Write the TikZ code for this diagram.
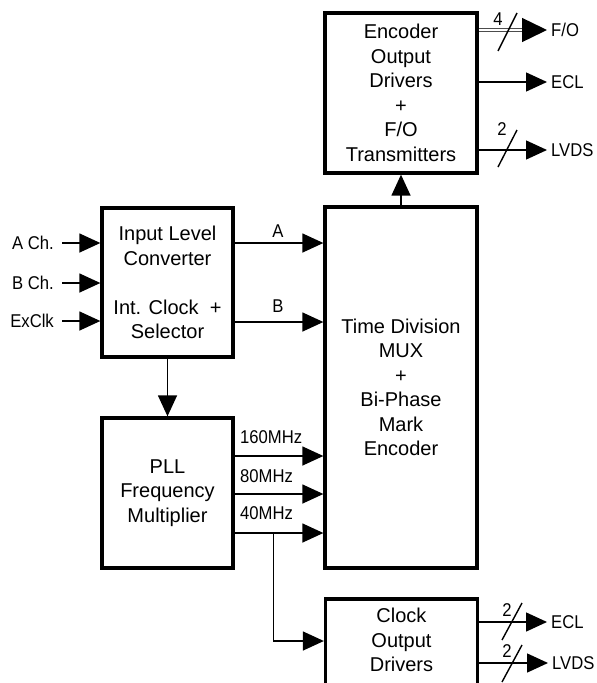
\documentclass[tikz,border=0pt]{standalone}
\usepackage{fontspec}
\setmainfont{Liberation Sans}
\newfontfamily\lblfont{Liberation Sans}[FakeStretch=0.9]
\usepackage{tikz}
\usetikzlibrary{
  arrows.meta,
  positioning,
  calc
}
\tikzset{
  blk/.style={
    draw, line width=3.3pt, align=center, inner sep=0pt,
    font=\fontsize{20}{24.5}\selectfont
  },
  sig/.style={-{Triangle[length=21pt, width=19pt]}, line width=1.4pt},
  bigsig/.style={-{Triangle[length=25pt, width=24pt]}, line width=1.4pt},
  fiber/.style={double=white, double distance=1.4pt, line width=1pt, draw=black!70},
  busmark/.style={line width=1.4pt},
  lbl/.style={font=\lblfont\fontsize{18.5}{22}\selectfont, inner sep=1pt},
  inlbl/.style={lbl, anchor=east, inner xsep=8pt},
  outlbl/.style={lbl, anchor=west, inner xsep=4pt}
}
\begin{document}
\begin{tikzpicture}[x=1pt, y=-1pt]
  \useasboundingbox (0,0) rectangle (597,683);
  \clip (0,0) rectangle (597,683);

  \node[blk, minimum width=152, minimum height=160] (enc) at (401,93)
    {Encoder\\Output\\Drivers\\+\\F/O\\Transmitters};
  \node[blk, minimum width=131, minimum height=149] (conv) at (167.5,282.5)
    {Input Level\\Converter\\[24.5pt]Int. Clock~~+\\Selector};
  \node[blk, minimum width=152, minimum height=361] (mux) at (401,387.5)
    {Time Division\\MUX\\+\\Bi-Phase\\Mark\\Encoder};
  \node[blk, minimum width=131, minimum height=150] (pll) at (167.5,493)
    {PLL\\Frequency\\Multiplier};
  \node[blk, minimum width=152, minimum height=100, text depth=18pt] (clk) at (401.5,649)
    {Clock\\Output\\Drivers};

  \foreach \y/\txt/\nm in {243/A Ch./ach, 283/B Ch./bch, 321/ExClk/xclk}{
    \node[inlbl] (\nm) at (62,\y) {\txt};
    \draw[sig] (\nm.east) -- (\nm.east -| conv.west);
  }

  \coordinate (atap) at ($(conv.east)+(0,-39.5)$);
  \coordinate (btap) at ($(conv.east)+(0,39.5)$);
  \draw[sig] (atap) -- (atap -| mux.west);
  \draw[sig] (btap) -- (btap -| mux.west);
  \node[lbl] (alab) at (278,231) {A};
  \node[lbl] (blab) at (278,306) {B};

  \draw[sig] (conv) -- (pll);
  \draw[sig] (mux) -- (enc);

  \foreach \dy/\ly/\txt/\nm in {-37/437/160MHz/f160, 1/476/80MHz/f80, 40/513/40MHz/f40}{
    \coordinate (\nm) at ($(pll.east)+(0,\dy)$);
    \draw[sig] (\nm) -- (\nm -| mux.west);
    \node[lbl, anchor=west] (\nm lab) at (239,\ly) {\txt};
  }
  \coordinate (tap) at ($(f40)+(39,0)$);
  \draw[sig] (tap) |- ($(clk.west)+(0,-8)$);

  \node[outlbl] (fo) at (547,30) {F/O};
  \node[outlbl] (ecla) at (547,82) {ECL};
  \node[outlbl] (lvdsa) at (547,150) {LVDS};
  \draw[fiber] (enc.east |- fo.west) -- ($(fo.west)+(-22,0)$);
  \draw[bigsig] ($(fo.west)+(-25,0)$) -- (fo.west);
  \draw[sig] (enc.east |- ecla.west) -- (ecla.west);
  \draw[sig] (enc.east |- lvdsa.west) -- (lvdsa.west);
  \draw[busmark] (498,51) -- (517,13);
  \node[lbl] (nfo) at (498,19) {4};
  \draw[busmark] (498,167) -- (517,130);
  \node[lbl] (nlvdsa) at (502,129) {2};

  \node[outlbl] (eclb) at (547,622) {ECL};
  \node[outlbl] (lvdsb) at (548,663) {LVDS};
  \draw[sig] (clk.east |- eclb.west) -- (eclb.west);
  \draw[sig] (clk.east |- lvdsb.west) -- (lvdsb.west);
  \draw[busmark] (502,640) -- (522,603);
  \node[lbl] (neclb) at (507,610) {2};
  \draw[busmark] (502,682) -- (522,645);
  \node[lbl] (nlvdsb) at (507,651) {2};
\end{tikzpicture}
\end{document}
